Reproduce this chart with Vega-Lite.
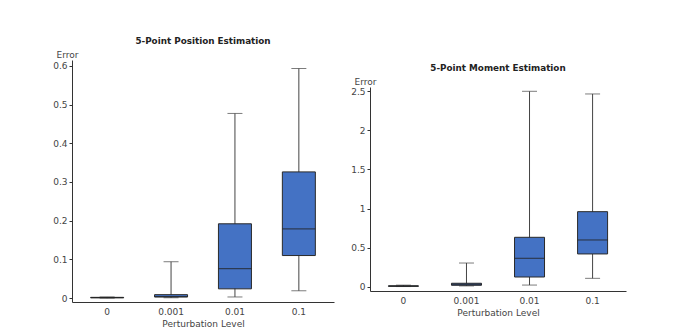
{
  "$schema": "https://vega.github.io/schema/vega-lite/v6.json",
  "padding": {"left": 52, "top": 37, "right": 5, "bottom": 5},
  "background": "white",
  "config": {
    "font": "DejaVu Sans",
    "view": {"stroke": null},
    "title": {"fontSize": 8.8, "fontWeight": "bold", "color": "#222", "anchor": "middle", "offset": 4},
    "axis": {"labelFont": "DejaVu Sans", "titleFont": "DejaVu Sans", "labelFontSize": 9, "titleFontSize": 9, "labelColor": "#444", "titleColor": "#444", "titleFontWeight": "normal", "domainColor": "#333", "tickColor": "#333", "grid": false}
  },
  "datasets": {
    "pos": [
      {"level": "0", "min": 0.0, "q1": 0.001, "median": 0.0015, "q3": 0.002, "max": 0.003},
      {"level": "0.001", "min": 0.001, "q1": 0.003, "median": 0.004, "q3": 0.009, "max": 0.094},
      {"level": "0.01", "min": 0.003, "q1": 0.024, "median": 0.076, "q3": 0.192, "max": 0.477},
      {"level": "0.1", "min": 0.019, "q1": 0.110, "median": 0.179, "q3": 0.326, "max": 0.593}
    ],
    "mom": [
      {"level": "0", "min": 0.002, "q1": 0.005, "median": 0.008, "q3": 0.011, "max": 0.02},
      {"level": "0.001", "min": 0.01, "q1": 0.018, "median": 0.03, "q3": 0.044, "max": 0.303},
      {"level": "0.01", "min": 0.021, "q1": 0.124, "median": 0.363, "q3": 0.632, "max": 2.5},
      {"level": "0.1", "min": 0.107, "q1": 0.419, "median": 0.598, "q3": 0.96, "max": 2.466}
    ],
    "blank": [{"k": 1}]
  },
  "hconcat": [
    {
      "title": "5-Point Position Estimation",
      "width": 262,
      "height": 242,
      "data": {"name": "pos"},
      "encoding": {
        "x": {"field": "level", "type": "nominal", "sort": ["0", "0.001", "0.01", "0.1"],
          "scale": {"paddingInner": 0, "paddingOuter": 0.05},
          "axis": {"title": "Perturbation Level", "labelAngle": 0, "ticks": false, "labelPadding": 5, "titlePadding": 3}}
      },
      "layer": [
        {"mark": {"type": "rule", "color": "#444", "strokeWidth": 1},
          "encoding": {"y": {"field": "min", "type": "quantitative",
            "scale": {"domain": [-0.01, 0.615], "nice": false, "zero": false},
            "axis": {"title": "Error", "values": [0, 0.1, 0.2, 0.3, 0.4, 0.5, 0.6], "format": "~g", "tickSize": 3, "labelPadding": 2,
              "titleAngle": 0, "titleAlign": "left", "titleBaseline": "bottom", "titleX": -16, "titleY": -1}},
            "y2": {"field": "max"}}},
        {"mark": {"type": "tick", "color": "#444", "size": 15, "thickness": 1},
          "encoding": {"y": {"field": "min", "type": "quantitative"}}},
        {"mark": {"type": "tick", "color": "#444", "size": 15, "thickness": 1},
          "encoding": {"y": {"field": "max", "type": "quantitative"}}},
        {"mark": {"type": "bar", "size": 33, "fill": "#4472C4", "stroke": "#2a2a2a", "strokeWidth": 1},
          "encoding": {"y": {"field": "q1", "type": "quantitative"}, "y2": {"field": "q3"}}},
        {"mark": {"type": "tick", "color": "#222", "size": 33, "thickness": 1.2},
          "encoding": {"y": {"field": "median", "type": "quantitative"}}}
      ]
    },
    {
      "spacing": 0,
      "vconcat": [
        {
          "width": 1,
          "height": 1,
          "data": {"name": "blank"},
          "mark": {"type": "point", "opacity": 0},
          "encoding": {}
        },
        {
          "title": "5-Point Moment Estimation",
          "width": 256,
          "height": 204,
          "data": {"name": "mom"},
          "encoding": {
            "x": {"field": "level", "type": "nominal", "sort": ["0", "0.001", "0.01", "0.1"],
              "scale": {"paddingInner": 0, "paddingOuter": 0.03},
              "axis": {"title": "Perturbation Level", "labelAngle": 0, "ticks": false, "labelPadding": 5, "titlePadding": 3}}
          },
          "layer": [
            {"mark": {"type": "rule", "color": "#444", "strokeWidth": 1},
              "encoding": {"y": {"field": "min", "type": "quantitative",
                "scale": {"domain": [-0.055, 2.555], "nice": false, "zero": false},
                "axis": {"title": "Error", "values": [0, 0.5, 1, 1.5, 2, 2.5], "format": "~g", "tickSize": 3, "labelPadding": 2,
                  "titleAngle": 0, "titleAlign": "left", "titleBaseline": "bottom", "titleX": -16, "titleY": -1}},
                "y2": {"field": "max"}}},
            {"mark": {"type": "tick", "color": "#444", "size": 15, "thickness": 1},
              "encoding": {"y": {"field": "min", "type": "quantitative"}}},
            {"mark": {"type": "tick", "color": "#444", "size": 15, "thickness": 1},
              "encoding": {"y": {"field": "max", "type": "quantitative"}}},
            {"mark": {"type": "bar", "size": 30, "fill": "#4472C4", "stroke": "#2a2a2a", "strokeWidth": 1},
              "encoding": {"y": {"field": "q1", "type": "quantitative"}, "y2": {"field": "q3"}}},
            {"mark": {"type": "tick", "color": "#222", "size": 30, "thickness": 1.2},
              "encoding": {"y": {"field": "median", "type": "quantitative"}}}
          ]
        }
      ]
    }
  ],
  "spacing": 16
}
